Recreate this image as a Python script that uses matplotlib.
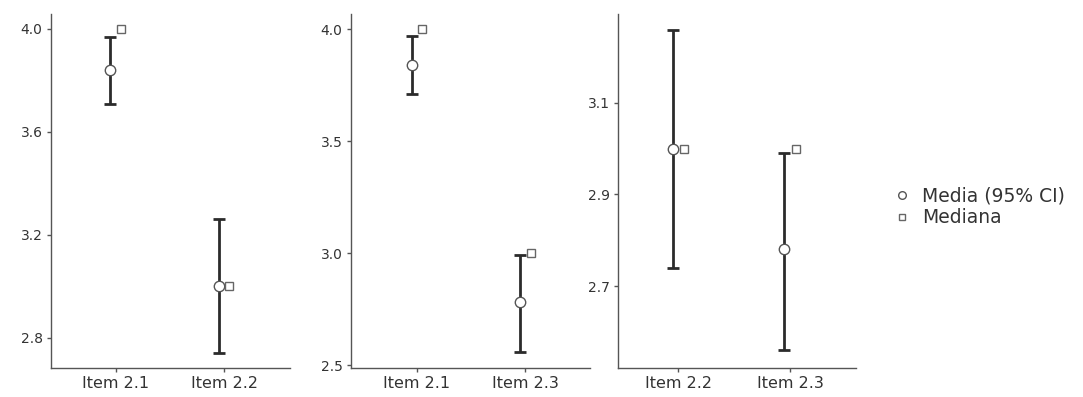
import numpy as np
import matplotlib
matplotlib.use("Agg")
import matplotlib.pyplot as plt
from matplotlib.lines import Line2D

# data per panel
items = [["Item 2.1", "Item 2.2"], ["Item 2.1", "Item 2.3"], ["Item 2.2", "Item 2.3"]]
means = [[3.84, 3.00], [3.84, 2.78], [3.00, 2.78]]
ci_low = [[3.71, 2.74], [3.71, 2.56], [2.74, 2.56]]
ci_high = [[3.97, 3.26], [3.97, 2.99], [3.26, 2.99]]
medians = [[4.0, 3.0], [4.0, 3.0], [3.0, 3.0]]
yticks = [[2.8, 3.2, 3.6, 4.0], [2.5, 3.0, 3.5, 4.0], [2.7, 2.9, 3.1]]
ylims = [(2.683, 4.058), (2.487, 4.067), (2.521, 3.294)]

W, H = 1083, 397
fig = plt.figure(figsize=(W / 100, H / 100), dpi=100)

# axes boxes in pixels: left, right, top, bottom
boxes = [(51, 290, 14, 368), (351, 590, 14, 368), (618, 856, 14, 368)]
xlims = [(-0.6, 1.61), (-0.61, 1.6), (-0.54, 1.59)]

ink = "#2b2b2b"
dodge = 0.05

for i, (l, r, t, b) in enumerate(boxes):
    ax = fig.add_axes([l / W, (H - b) / H, (r - l) / W, (b - t) / H])
    x = np.arange(len(items[i]))
    m = np.array(means[i])
    lo = m - np.array(ci_low[i])
    hi = np.array(ci_high[i]) - m
    ax.errorbar(x - dodge, m, yerr=[lo, hi], fmt="none", ecolor=ink,
                elinewidth=2.0, capsize=4.5, capthick=2.0, zorder=2)
    ax.plot(x - dodge, m, "o", ms=7.5, mfc="white", mec="#555555", mew=1.0, zorder=3)
    ax.plot(x + dodge, medians[i], "s", ms=6, mfc="white", mec="#666666", mew=1.0, zorder=3)

    ax.set_xlim(*xlims[i])
    ax.set_ylim(*ylims[i])
    ax.set_xticks(x)
    ax.set_xticklabels(items[i], fontsize=11.5, color="#333333")
    ax.set_yticks(yticks[i])
    ax.set_yticklabels([f"{v:.1f}" for v in yticks[i]], fontsize=10, color="#333333")
    ax.tick_params(length=3, width=1, color="#555555", pad=3)
    for s in ["top", "right"]:
        ax.spines[s].set_visible(False)
    for s in ["left", "bottom"]:
        ax.spines[s].set_color("#555555")
        ax.spines[s].set_linewidth(1.0)

handles = [
    Line2D([], [], ls="none", marker="o", ms=5.5, mfc="white", mec="#555555", mew=1.0),
    Line2D([], [], ls="none", marker="s", ms=5, mfc="white", mec="#666666", mew=1.0),
]
fig.legend(handles, ["Media (95% CI)", "Mediana"], loc="center left",
           bbox_to_anchor=(880 / W, 1 - 207 / H), frameon=False, fontsize=13.5,
           handlelength=0.9, handletextpad=0.65, labelspacing=0.12,
           borderaxespad=0.3, labelcolor="#333333")

fig.savefig("out.png", dpi=100)
